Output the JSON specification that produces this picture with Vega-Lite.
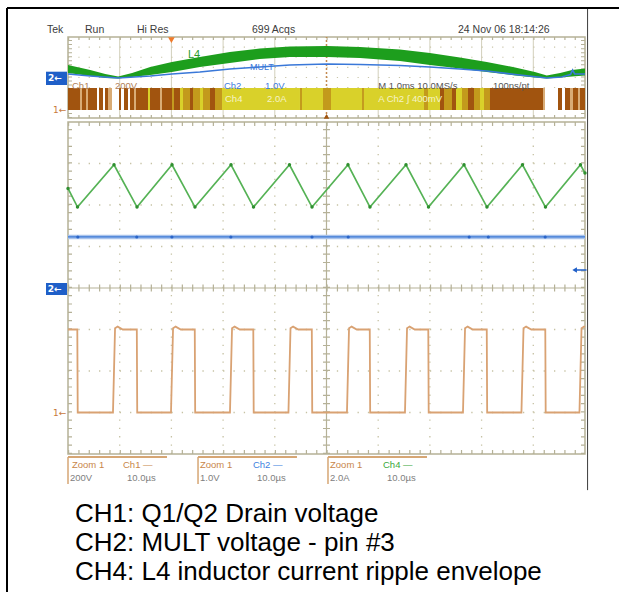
{
"$schema":"https://vega.github.io/schema/vega-lite/v6.json",
"width":612,"height":584,
"autosize":{"type":"none"},
"padding":{"left":7,"top":8,"right":0,"bottom":0},
"background":"#ffffff",
"config":{"view":{"stroke":null},"text":{"font":"Liberation Sans"}},
"datasets":{
"ch4_ripple":[{"t":0,"v":2.40},{"t":1.84,"v":1.95},{"t":8.90,"v":2.97},{"t":13.35,"v":1.95},{"t":20.12,"v":2.97},{"t":24.56,"v":1.95},{"t":31.53,"v":2.97},{"t":35.88,"v":1.95},{"t":42.84,"v":2.97},{"t":47.20,"v":1.95},{"t":54.16,"v":2.97},{"t":58.41,"v":1.95},{"t":65.38,"v":2.97},{"t":69.73,"v":1.95},{"t":76.60,"v":2.97},{"t":81.04,"v":1.95},{"t":87.91,"v":2.97},{"t":92.36,"v":1.95},{"t":99.13,"v":2.97},{"t":100,"v":2.77}],
"ch1_drain":[{"t":0,"v":-1.0},{"t":1.80,"v":-1.0},{"t":1.88,"v":-3.0},{"t":8.70,"v":-3.0},{"t":9.10,"v":-0.97},{"t":9.60,"v":-0.93},{"t":10.60,"v":-1.0},{"t":13.31,"v":-1.0},{"t":13.39,"v":-3.0},{"t":19.92,"v":-3.0},{"t":20.32,"v":-0.97},{"t":20.82,"v":-0.93},{"t":21.82,"v":-1.0},{"t":24.52,"v":-1.0},{"t":24.60,"v":-3.0},{"t":31.33,"v":-3.0},{"t":31.73,"v":-0.97},{"t":32.23,"v":-0.93},{"t":33.23,"v":-1.0},{"t":35.84,"v":-1.0},{"t":35.92,"v":-3.0},{"t":42.64,"v":-3.0},{"t":43.04,"v":-0.97},{"t":43.54,"v":-0.93},{"t":44.54,"v":-1.0},{"t":47.16,"v":-1.0},{"t":47.24,"v":-3.0},{"t":53.96,"v":-3.0},{"t":54.36,"v":-0.97},{"t":54.86,"v":-0.93},{"t":55.86,"v":-1.0},{"t":58.37,"v":-1.0},{"t":58.45,"v":-3.0},{"t":65.18,"v":-3.0},{"t":65.58,"v":-0.97},{"t":66.08,"v":-0.93},{"t":67.08,"v":-1.0},{"t":69.69,"v":-1.0},{"t":69.77,"v":-3.0},{"t":76.40,"v":-3.0},{"t":76.80,"v":-0.97},{"t":77.30,"v":-0.93},{"t":78.30,"v":-1.0},{"t":81.00,"v":-1.0},{"t":81.08,"v":-3.0},{"t":87.71,"v":-3.0},{"t":88.11,"v":-0.97},{"t":88.61,"v":-0.93},{"t":89.61,"v":-1.0},{"t":92.32,"v":-1.0},{"t":92.40,"v":-3.0},{"t":98.93,"v":-3.0},{"t":99.33,"v":-0.97},{"t":99.83,"v":-0.93},{"t":100,"v":-0.94}],
"ch2_mult":[{"t":0,"v":1.23},{"t":100,"v":1.23}],
"ch2_dots":[{"t":1.9,"v":1.23},{"t":13.3,"v":1.23},{"t":20.1,"v":1.23},{"t":31.5,"v":1.23},{"t":47.2,"v":1.23},{"t":54.2,"v":1.23},{"t":77.6,"v":1.23},{"t":81.3,"v":1.23},{"t":92.3,"v":1.23}],
"ov_ch4":[{"ms":0.00,"d":0.444,"d2":1.235},{"ms":0.43,"d":0.148,"d2":0.741},{"ms":0.72,"d":-0.05,"d2":0.346},{"ms":0.97,"d":-0.099,"d2":0.099},{"ms":1.24,"d":0.049,"d2":0.444},{"ms":1.59,"d":0.247,"d2":1.037},{"ms":2.01,"d":0.543,"d2":1.531},{"ms":2.55,"d":1.037,"d2":2.025},{"ms":3.13,"d":1.432,"d2":2.519},{"ms":3.71,"d":1.827,"d2":2.864},{"ms":4.29,"d":2.025,"d2":3.062},{"ms":5.01,"d":2.025,"d2":3.111},{"ms":5.65,"d":1.926,"d2":3.012},{"ms":6.42,"d":1.630,"d2":2.765},{"ms":7.00,"d":1.235,"d2":2.420},{"ms":7.58,"d":0.889,"d2":1.975},{"ms":8.10,"d":0.543,"d2":1.531},{"ms":8.65,"d":0.198,"d2":0.988},{"ms":9.03,"d":0.0,"d2":0.543},{"ms":9.26,"d":-0.099,"d2":0.198},{"ms":9.52,"d":0.0,"d2":0.444},{"ms":9.75,"d":0.099,"d2":0.741},{"ms":10.0,"d":0.198,"d2":0.889}],
"ov_ch2":[{"ms":0.00,"d":0.346},{"ms":0.43,"d":0.148},{"ms":0.97,"d":-0.05},{"ms":1.59,"d":0.148},{"ms":2.01,"d":0.35},{"ms":2.55,"d":0.543},{"ms":3.13,"d":0.840},{"ms":3.71,"d":1.037},{"ms":4.29,"d":1.235},{"ms":5.01,"d":1.333},{"ms":5.65,"d":1.284},{"ms":6.42,"d":1.185},{"ms":7.00,"d":1.037},{"ms":7.58,"d":0.840},{"ms":8.10,"d":0.642},{"ms":8.65,"d":0.296},{"ms":9.26,"d":-0.05},{"ms":9.55,"d":0.049},{"ms":9.72,"d":0.30},{"ms":9.76,"d":0.74},{"ms":9.80,"d":0.35},{"ms":10.0,"d":0.346}],
"ov_ch1":[{"ms":0.000,"ms2":0.232,"s":"b"},{"ms":0.232,"ms2":0.271,"s":"l"},{"ms":0.271,"ms2":0.348,"s":"b"},{"ms":0.348,"ms2":0.387,"s":"l"},{"ms":0.387,"ms2":0.561,"s":"b"},{"ms":0.561,"ms2":0.600,"s":"w"},{"ms":0.600,"ms2":0.677,"s":"b"},{"ms":0.677,"ms2":0.716,"s":"w"},{"ms":0.716,"ms2":0.774,"s":"b"},{"ms":0.774,"ms2":0.851,"s":"l"},{"ms":0.851,"ms2":0.986,"s":"w"},{"ms":0.986,"ms2":1.025,"s":"b"},{"ms":1.025,"ms2":1.083,"s":"w"},{"ms":1.083,"ms2":1.161,"s":"b"},{"ms":1.161,"ms2":1.199,"s":"w"},{"ms":1.199,"ms2":1.277,"s":"b"},{"ms":1.277,"ms2":1.315,"s":"l"},{"ms":1.315,"ms2":1.547,"s":"b"},{"ms":1.547,"ms2":1.586,"s":"y"},{"ms":1.586,"ms2":1.780,"s":"b"},{"ms":1.780,"ms2":1.818,"s":"l"},{"ms":1.818,"ms2":2.012,"s":"b"},{"ms":2.012,"ms2":2.050,"s":"m"},{"ms":2.050,"ms2":2.166,"s":"b"},{"ms":2.166,"ms2":2.224,"s":"y"},{"ms":2.224,"ms2":2.360,"s":"m"},{"ms":2.360,"ms2":2.418,"s":"b"},{"ms":2.418,"ms2":2.553,"s":"m"},{"ms":2.553,"ms2":2.611,"s":"y"},{"ms":2.611,"ms2":2.747,"s":"m"},{"ms":2.747,"ms2":2.843,"s":"b"},{"ms":2.843,"ms2":2.979,"s":"m"},{"ms":2.979,"ms2":4.487,"s":"y"},{"ms":4.487,"ms2":4.526,"s":"m"},{"ms":4.526,"ms2":4.932,"s":"y"},{"ms":4.932,"ms2":5.087,"s":"m"},{"ms":5.087,"ms2":5.687,"s":"y"},{"ms":5.687,"ms2":5.725,"s":"m"},{"ms":5.725,"ms2":6.886,"s":"y"},{"ms":6.886,"ms2":6.963,"s":"m"},{"ms":6.963,"ms2":7.195,"s":"y"},{"ms":7.195,"ms2":7.273,"s":"b"},{"ms":7.273,"ms2":7.427,"s":"m"},{"ms":7.427,"ms2":7.505,"s":"b"},{"ms":7.505,"ms2":7.621,"s":"y"},{"ms":7.621,"ms2":7.737,"s":"m"},{"ms":7.737,"ms2":7.853,"s":"b"},{"ms":7.853,"ms2":7.969,"s":"m"},{"ms":7.969,"ms2":8.046,"s":"y"},{"ms":8.046,"ms2":8.162,"s":"m"},{"ms":8.162,"ms2":9.188,"s":"b"},{"ms":9.188,"ms2":9.226,"s":"l"},{"ms":9.226,"ms2":9.478,"s":"w"},{"ms":9.478,"ms2":9.555,"s":"b"},{"ms":9.555,"ms2":9.613,"s":"w"},{"ms":9.613,"ms2":9.710,"s":"b"},{"ms":9.710,"ms2":9.768,"s":"l"},{"ms":9.768,"ms2":9.865,"s":"b"},{"ms":9.865,"ms2":9.903,"s":"l"},{"ms":9.903,"ms2":10.0,"s":"b"}]
},
"layer":[
{
"layer":[
{"data":{"values":[{"t":100.5,"v":-4.87,"v2":6.747}]},"mark":{"type":"rule","color":"#3c3c3c","strokeWidth":1},
"encoding":{"x":{"field":"t","type":"quantitative","scale":{"domain":[-11.8,106.58],"nice":false,"zero":false},"axis":null},
"y":{"field":"v","type":"quantitative","scale":{"domain":[-7.325,6.747],"nice":false,"zero":false},"axis":null},
"y2":{"field":"v2"}}},
{"data":{"values":[{"t":-11.8,"t2":106.58,"v":6.747}]},"mark":{"type":"rule","color":"#000000","strokeWidth":2},"encoding":{"x":{"field":"t","type":"quantitative","axis":null},"x2":{"field":"t2"},"y":{"field":"v","type":"quantitative","axis":null}}},
{"data":{"values":[{"t":-11.8,"v":-7.325,"v2":6.747}]},"mark":{"type":"rule","color":"#000000","strokeWidth":2},"encoding":{"x":{"field":"t","type":"quantitative","axis":null},"y":{"field":"v","type":"quantitative","axis":null},"y2":{"field":"v2"}}},
{"data":{"values":[{"t":10},{"t":20},{"t":30},{"t":40},{"t":60},{"t":70},{"t":80},{"t":90}]},"mark":{"type":"rule","color":"#c6c2a4","strokeWidth":1.3,"strokeDash":[1.3,7.0]},
"encoding":{"x":{"field":"t","type":"quantitative","axis":null},"y":{"datum":-4,"type":"quantitative","axis":null},"y2":{"datum":4}}},
{"data":{"values":[{"v":-3},{"v":-2},{"v":-1},{"v":1},{"v":2},{"v":3}]},"mark":{"type":"rule","color":"#c6c2a4","strokeWidth":1.3,"strokeDash":[1.3,9.04]},
"encoding":{"y":{"field":"v","type":"quantitative","axis":null},"x":{"datum":0,"type":"quantitative","axis":null},"x2":{"datum":100}}},
{"data":{"values":[{"t":50}]},"mark":{"type":"rule","color":"#b5b197","strokeWidth":1.2},"encoding":{"x":{"field":"t","type":"quantitative","axis":null},"y":{"datum":-4,"type":"quantitative","axis":null},"y2":{"datum":4}}},
{"data":{"values":[{"v":0}]},"mark":{"type":"rule","color":"#b5b197","strokeWidth":1.2},"encoding":{"y":{"field":"v","type":"quantitative","axis":null},"x":{"datum":0,"type":"quantitative","axis":null},"x2":{"datum":100}}},
{"data":{"values":[{"t":50}]},"mark":{"type":"rule","color":"#b5b197","strokeWidth":7,"strokeDash":[1.2,7.1]},"encoding":{"x":{"field":"t","type":"quantitative","axis":null},"y":{"datum":-4,"type":"quantitative","axis":null},"y2":{"datum":4}}},
{"data":{"values":[{"v":0}]},"mark":{"type":"rule","color":"#b5b197","strokeWidth":7,"strokeDash":[1.2,9.14]},"encoding":{"y":{"field":"v","type":"quantitative","axis":null},"x":{"datum":0,"type":"quantitative","axis":null},"x2":{"datum":100}}},
{"data":{"values":[{"v":4}]},"mark":{"type":"rule","color":"#b5b197","strokeWidth":4,"strokeDash":[1.2,9.14],"yOffset":2},"encoding":{"y":{"field":"v","type":"quantitative","axis":null},"x":{"datum":0,"type":"quantitative","axis":null},"x2":{"datum":100}}},
{"data":{"values":[{"v":-4}]},"mark":{"type":"rule","color":"#b5b197","strokeWidth":4,"strokeDash":[1.2,9.14],"yOffset":-2},"encoding":{"y":{"field":"v","type":"quantitative","axis":null},"x":{"datum":0,"type":"quantitative","axis":null},"x2":{"datum":100}}},
{"data":{"values":[{"t":0}]},"mark":{"type":"rule","color":"#b5b197","strokeWidth":4,"strokeDash":[1.2,7.1],"xOffset":2},"encoding":{"x":{"field":"t","type":"quantitative","axis":null},"y":{"datum":-4,"type":"quantitative","axis":null},"y2":{"datum":4}}},
{"data":{"values":[{"t":100}]},"mark":{"type":"rule","color":"#b5b197","strokeWidth":4,"strokeDash":[1.2,7.1],"xOffset":-2},"encoding":{"x":{"field":"t","type":"quantitative","axis":null},"y":{"datum":-4,"type":"quantitative","axis":null},"y2":{"datum":4}}},
{"data":{"values":[{"t":0,"t2":100,"v":-4,"v2":4}]},"mark":{"type":"rect","filled":false,"color":"#b5b197","strokeWidth":1.5},"encoding":{"x":{"field":"t","type":"quantitative","axis":null},"x2":{"field":"t2"},"y":{"field":"v","type":"quantitative","axis":null},"y2":{"field":"v2"}}},
{"data":{"name":"ch2_mult"},"mark":{"type":"line","color":"#a9c3ec","strokeWidth":4.5},"encoding":{"x":{"field":"t","type":"quantitative","axis":null},"y":{"field":"v","type":"quantitative","axis":null}}},
{"data":{"name":"ch2_mult"},"mark":{"type":"line","color":"#3b78d6","strokeWidth":1.2},"encoding":{"x":{"field":"t","type":"quantitative","axis":null},"y":{"field":"v","type":"quantitative","axis":null}}},
{"data":{"name":"ch2_dots"},"mark":{"type":"point","filled":true,"color":"#2a64c8","size":10,"opacity":1},"encoding":{"x":{"field":"t","type":"quantitative","axis":null},"y":{"field":"v","type":"quantitative","axis":null}}},
{"data":{"name":"ch4_ripple"},"mark":{"type":"line","color":"#55b255","strokeWidth":1.7},"encoding":{"x":{"field":"t","type":"quantitative","axis":null},"y":{"field":"v","type":"quantitative","axis":null}}},
{"data":{"name":"ch4_ripple"},"mark":{"type":"point","filled":true,"color":"#2f8f2f","size":12,"opacity":1},"encoding":{"x":{"field":"t","type":"quantitative","axis":null},"y":{"field":"v","type":"quantitative","axis":null}}},
{"data":{"name":"ch1_drain"},"mark":{"type":"line","color":"#d9a273","strokeWidth":1.8},"encoding":{"x":{"field":"t","type":"quantitative","axis":null},"y":{"field":"v","type":"quantitative","axis":null}}},
{"data":{"values":[{"t":98.3,"t2":100.3,"v":0.434}]},"mark":{"type":"rule","color":"#1f5fc8","strokeWidth":1.5},"encoding":{"x":{"field":"t","type":"quantitative","axis":null},"x2":{"field":"t2"},"y":{"field":"v","type":"quantitative","axis":null}}},
{"data":{"values":[{"t":98.0,"v":0.434}]},"mark":{"type":"point","shape":"triangle-left","filled":true,"color":"#1f5fc8","size":28,"opacity":1},"encoding":{"x":{"field":"t","type":"quantitative","axis":null},"y":{"field":"v","type":"quantitative","axis":null}}},
{"data":{"values":[{"t":-4.26,"t2":-0.19,"v":0.12,"v2":-0.169}]},"mark":{"type":"rect","color":"#1f5fc8"},"encoding":{"x":{"field":"t","type":"quantitative","axis":null},"x2":{"field":"t2"},"y":{"field":"v","type":"quantitative","axis":null},"y2":{"field":"v2"}}},
{"data":{"values":[{"t":-3.9,"v":-0.03,"label":"2←"}]},"mark":{"type":"text","color":"#ffffff","font":"DejaVu Sans","fontSize":9,"fontWeight":"bold","align":"left","baseline":"middle"},"encoding":{"x":{"field":"t","type":"quantitative","axis":null},"y":{"field":"v","type":"quantitative","axis":null},"text":{"field":"label"}}},
{"data":{"values":[{"t":-2.9,"v":-3.01,"label":"1←"}]},"mark":{"type":"text","color":"#c87a3c","font":"DejaVu Sans","fontSize":9,"align":"left","baseline":"middle"},"encoding":{"x":{"field":"t","type":"quantitative","axis":null},"y":{"field":"v","type":"quantitative","axis":null},"text":{"field":"label"}}},
{"data":{"values":[{"t":0,"t2":19.15,"v":-4.072},{"t":25.15,"t2":44.29,"v":-4.072},{"t":50.29,"t2":69.44,"v":-4.072}]},"mark":{"type":"rule","color":"#d6a674","strokeWidth":2},"encoding":{"x":{"field":"t","type":"quantitative","axis":null},"x2":{"field":"t2"},"y":{"field":"v","type":"quantitative","axis":null}}},
{"data":{"values":[{"t":0,"v":-4.072,"v2":-4.72},{"t":25.15,"v":-4.072,"v2":-4.72},{"t":50.29,"v":-4.072,"v2":-4.72}]},"mark":{"type":"rule","color":"#d6a674","strokeWidth":1.5},"encoding":{"x":{"field":"t","type":"quantitative","axis":null},"y":{"field":"v","type":"quantitative","axis":null},"y2":{"field":"v2"}}},
{"data":{"values":[
{"t":0.77,"v":-4.265,"label":"Zoom 1","c":"zoom"},{"t":10.64,"v":-4.265,"label":"Ch1 —","c":"ch1"},{"t":0.39,"v":-4.578,"label":"200V","c":"val"},{"t":11.41,"v":-4.578,"label":"10.0µs","c":"val"},
{"t":25.53,"v":-4.265,"label":"Zoom 1","c":"zoom"},{"t":35.78,"v":-4.265,"label":"Ch2 —","c":"ch2"},{"t":25.53,"v":-4.578,"label":"1.0V","c":"val"},{"t":36.56,"v":-4.578,"label":"10.0µs","c":"val"},
{"t":50.68,"v":-4.265,"label":"Zoom 1","c":"zoom"},{"t":60.93,"v":-4.265,"label":"Ch4 —","c":"ch4"},{"t":50.68,"v":-4.578,"label":"2.0A","c":"val"},{"t":61.70,"v":-4.578,"label":"10.0µs","c":"val"}]},
"mark":{"type":"text","fontSize":9.5,"align":"left","baseline":"middle"},
"encoding":{"x":{"field":"t","type":"quantitative","axis":null},"y":{"field":"v","type":"quantitative","axis":null},"text":{"field":"label"},"color":{"field":"c","type":"nominal","scale":{"domain":["zoom","ch1","ch2","ch4","val"],"range":["#c8864a","#c8864a","#3d7fe0","#3aa83a","#808080"]},"legend":null}}},
{"data":{"values":[{"t":1.35,"v":-5.446,"label":"CH1: Q1/Q2 Drain voltage"},{"t":1.35,"v":-6.145,"label":"CH2: MULT voltage - pin #3"},{"t":1.35,"v":-6.843,"label":"CH4: L4 inductor current ripple envelope"}]},
"mark":{"type":"text","fontSize":26,"color":"#000000","align":"left","baseline":"middle"},"encoding":{"x":{"field":"t","type":"quantitative","axis":null},"y":{"field":"v","type":"quantitative","axis":null},"text":{"field":"label"}}}
]
},
{
"layer":[
{"data":{"values":[{"ms":1},{"ms":2},{"ms":3},{"ms":4},{"ms":6},{"ms":7},{"ms":8},{"ms":9}]},"mark":{"type":"rule","color":"#d2cfbb","strokeWidth":1},
"encoding":{"x":{"field":"ms","type":"quantitative","scale":{"domain":[-1.1799,10.6576],"nice":false,"zero":false},"axis":null},"y":{"datum":-4,"type":"quantitative","scale":{"domain":[-50.815,6.864],"nice":false,"zero":false},"axis":null},"y2":{"datum":4}}},
{"data":{"values":[{"d":-3},{"d":-2},{"d":-1},{"d":0},{"d":1},{"d":2},{"d":3}]},"mark":{"type":"rule","color":"#c9c5a8","strokeWidth":1.2,"strokeDash":[1.2,9.14]},"encoding":{"y":{"field":"d","type":"quantitative","axis":null},"x":{"datum":0,"type":"quantitative","axis":null},"x2":{"datum":10}}},
{"data":{"values":[{"d":4}]},"mark":{"type":"rule","color":"#b5b197","strokeWidth":3,"strokeDash":[1.2,9.14],"yOffset":1.5},"encoding":{"y":{"field":"d","type":"quantitative","axis":null},"x":{"datum":0,"type":"quantitative","axis":null},"x2":{"datum":10}}},
{"data":{"values":[{"d":-4}]},"mark":{"type":"rule","color":"#b5b197","strokeWidth":3,"strokeDash":[1.2,9.14],"yOffset":-1.5},"encoding":{"y":{"field":"d","type":"quantitative","axis":null},"x":{"datum":0,"type":"quantitative","axis":null},"x2":{"datum":10}}},
{"data":{"values":[{"ms":0}]},"mark":{"type":"rule","color":"#b5b197","strokeWidth":4,"strokeDash":[1,3.05],"xOffset":2},"encoding":{"x":{"field":"ms","type":"quantitative","axis":null},"y":{"datum":-4,"type":"quantitative","axis":null},"y2":{"datum":4}}},
{"data":{"values":[{"ms":10}]},"mark":{"type":"rule","color":"#b5b197","strokeWidth":4,"strokeDash":[1,3.05],"xOffset":-2},"encoding":{"x":{"field":"ms","type":"quantitative","axis":null},"y":{"datum":-4,"type":"quantitative","axis":null},"y2":{"datum":4}}},
{"data":{"values":[{"ms":0,"ms2":10,"d":-4,"d2":4}]},"mark":{"type":"rect","filled":false,"color":"#b5b197","strokeWidth":1.5},"encoding":{"x":{"field":"ms","type":"quantitative","axis":null},"x2":{"field":"ms2"},"y":{"field":"d","type":"quantitative","axis":null},"y2":{"field":"d2"}}},
{"data":{"values":[{"ms":5}]},"mark":{"type":"rule","color":"#c4894e","strokeWidth":1.5,"strokeDash":[2,2]},"encoding":{"x":{"field":"ms","type":"quantitative","axis":null},"y":{"datum":-4,"type":"quantitative","axis":null},"y2":{"datum":4}}},
{"data":{"name":"ov_ch1"},"mark":{"type":"rect"},
"encoding":{"x":{"field":"ms","type":"quantitative","axis":null},"x2":{"field":"ms2"},"y":{"datum":-3.21,"type":"quantitative","axis":null},"y2":{"datum":-1.037},
"color":{"field":"s","type":"nominal","scale":{"domain":["b","m","y","w","l"],"range":["#a1540f","#c39a1c","#d9d12a","#ffffff","#d9ab74"]},"legend":null}}},
{"data":{"values":[{"ms":0.077,"d":-0.84,"label":"Ch1"},{"ms":0.909,"d":-0.84,"label":"200V"}]},"mark":{"type":"text","color":"#b08058","fontSize":9.5,"align":"left","baseline":"middle"},"encoding":{"x":{"field":"ms","type":"quantitative","axis":null},"y":{"field":"d","type":"quantitative","axis":null},"text":{"field":"label"}}},
{"data":{"values":[{"ms":3.017,"d":-0.84,"label":"Ch2"},{"ms":3.81,"d":-0.84,"label":"1.0V"}]},"mark":{"type":"text","color":"#3c7be0","fontSize":9.5,"align":"left","baseline":"middle"},"encoding":{"x":{"field":"ms","type":"quantitative","axis":null},"y":{"field":"d","type":"quantitative","axis":null},"text":{"field":"label"}}},
{"data":{"values":[{"ms":6.0,"d":-0.84,"label":"M 1.0ms  10.0MS/s"},{"ms":8.22,"d":-0.84,"label":"100ns/pt"}]},"mark":{"type":"text","color":"#555555","fontSize":9.5,"align":"left","baseline":"middle"},"encoding":{"x":{"field":"ms","type":"quantitative","axis":null},"y":{"field":"d","type":"quantitative","axis":null},"text":{"field":"label"}}},
{"data":{"values":[{"ms":3.037,"d":-2.12,"label":"Ch4"},{"ms":3.85,"d":-2.12,"label":"2.0A"},{"ms":6.0,"d":-2.12,"label":"A  Ch2  ∫  400mV"}]},"mark":{"type":"text","color":"#f6f3c8","fontSize":9.5,"align":"left","baseline":"middle"},"encoding":{"x":{"field":"ms","type":"quantitative","axis":null},"y":{"field":"d","type":"quantitative","axis":null},"text":{"field":"label"}}},
{"data":{"name":"ov_ch4"},"mark":{"type":"area","color":"#1d9e1d","opacity":1},"encoding":{"x":{"field":"ms","type":"quantitative","axis":null},"y":{"field":"d","type":"quantitative","axis":null},"y2":{"field":"d2"}}},
{"data":{"name":"ov_ch2"},"mark":{"type":"line","color":"#3a78d8","strokeWidth":1.6},"encoding":{"x":{"field":"ms","type":"quantitative","axis":null},"y":{"field":"d","type":"quantitative","axis":null}}},
{"data":{"values":[{"ms":2.32,"d":2.22,"label":"L4"}]},"mark":{"type":"text","color":"#2a9a2a","fontSize":11,"align":"left","baseline":"middle"},"encoding":{"x":{"field":"ms","type":"quantitative","axis":null},"y":{"field":"d","type":"quantitative","axis":null},"text":{"field":"label"}}},
{"data":{"values":[{"ms":3.52,"d":1.04,"label":"MULT"}]},"mark":{"type":"text","color":"#3a78d8","fontSize":9,"align":"left","baseline":"middle"},"encoding":{"x":{"field":"ms","type":"quantitative","axis":null},"y":{"field":"d","type":"quantitative","axis":null},"text":{"field":"label"}}},
{"data":{"values":[{"ms":2.0,"d":3.7}]},"mark":{"type":"point","shape":"triangle-down","filled":true,"color":"#f07a2a","size":45,"opacity":1},"encoding":{"x":{"field":"ms","type":"quantitative","axis":null},"y":{"field":"d","type":"quantitative","axis":null}}},
{"data":{"values":[{"ms":5.0,"d":-3.85}]},"mark":{"type":"point","shape":"triangle-up","filled":true,"color":"#a1540f","size":30,"opacity":1},"encoding":{"x":{"field":"ms","type":"quantitative","axis":null},"y":{"field":"d","type":"quantitative","axis":null}}},
{"data":{"values":[{"ms":-0.426,"ms2":-0.019,"d":0.573,"d2":-0.741}]},"mark":{"type":"rect","color":"#1f5fc8"},"encoding":{"x":{"field":"ms","type":"quantitative","axis":null},"x2":{"field":"ms2"},"y":{"field":"d","type":"quantitative","axis":null},"y2":{"field":"d2"}}},
{"data":{"values":[{"ms":-0.387,"d":-0.08,"label":"2←"}]},"mark":{"type":"text","color":"#ffffff","font":"DejaVu Sans","fontSize":9,"fontWeight":"bold","align":"left","baseline":"middle"},"encoding":{"x":{"field":"ms","type":"quantitative","axis":null},"y":{"field":"d","type":"quantitative","axis":null},"text":{"field":"label"}}},
{"data":{"values":[{"ms":-0.29,"d":-3.21,"label":"1←"}]},"mark":{"type":"text","color":"#c87a3c","font":"DejaVu Sans","fontSize":9,"align":"left","baseline":"middle"},"encoding":{"x":{"field":"ms","type":"quantitative","axis":null},"y":{"field":"d","type":"quantitative","axis":null},"text":{"field":"label"}}},
{"data":{"values":[{"ms":-0.406,"d":4.69,"label":"Tek"},{"ms":0.329,"d":4.69,"label":"Run"},{"ms":1.335,"d":4.69,"label":"Hi Res"},{"ms":3.559,"d":4.69,"label":"699 Acqs"},{"ms":7.544,"d":4.69,"label":"24 Nov 06 18:14:26"}]},
"mark":{"type":"text","color":"#3c3c3c","fontSize":10.5,"align":"left","baseline":"middle"},"encoding":{"x":{"field":"ms","type":"quantitative","axis":null},"y":{"field":"d","type":"quantitative","axis":null},"text":{"field":"label"}}}
]
}
],
"resolve":{"scale":{"x":"independent","y":"independent","color":"independent"}}
}
